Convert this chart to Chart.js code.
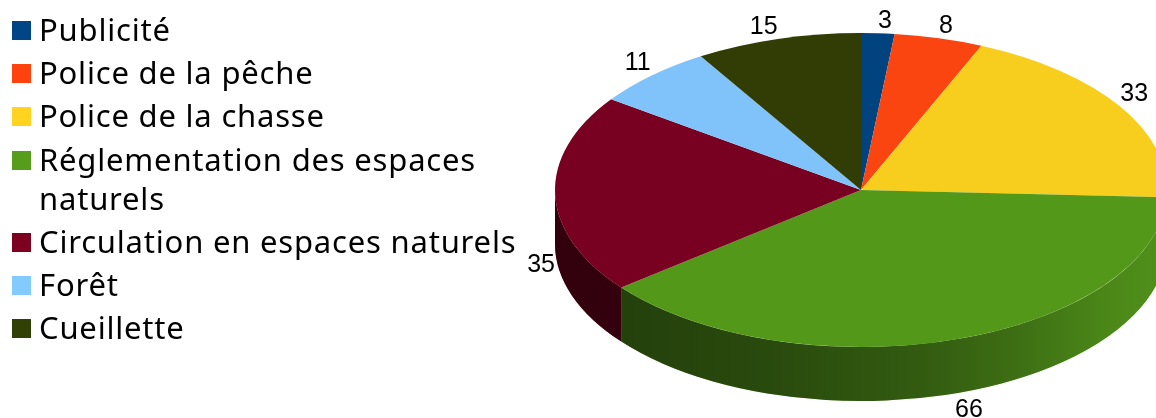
<!DOCTYPE html>
<html lang="fr">
<head>
<meta charset="utf-8">
<title>Répartition</title>
<script src="https://cdn.jsdelivr.net/npm/chart.js@4"></script>
<style>
html, body { margin: 0; padding: 0; background: #fff; }
#wrap { position: relative; width: 1156px; height: 418px; overflow: hidden; }
#pie { position: absolute; left: 0; top: 0; }
#legend { position: absolute; left: 12px; top: 10px; width: 510px; margin: 0; padding: 0; list-style: none;
  font: 31px 'Noto Sans', sans-serif; letter-spacing: .8px; color: #000; }
#legend li { position: relative; padding-left: 27px; line-height: 39px; margin-bottom: 4.2px; }
#legend i { position: absolute; left: 0; top: 11px; width: 19px; height: 19px; }
</style>
</head>
<body>
<div id="wrap">
  <canvas id="pie" width="1156" height="418"></canvas>
  <ul id="legend"></ul>
</div>
<script>
// Data
const categories = [
  "Publicité",
  "Police de la pêche",
  "Police de la chasse",
  "Réglementation des espaces naturels",
  "Circulation en espaces naturels",
  "Forêt",
  "Cueillette"
];
const values = [3, 8, 33, 66, 35, 11, 15];
const legendColors = ["#004586", "#ff420e", "#ffd320", "#579d1c", "#7e0021", "#83caff", "#314004"];
const sliceColors = ["#00437f", "#fb4510", "#f8ce1e", "#54981a", "#780020", "#7fc3fa", "#313d04"];

// Ellipse of the tilted pie, in page pixels
const CX = 861, CY = 190, RX = 306, RY = 157, DEPTH = 54;

// Legend
const legend = document.getElementById("legend");
categories.forEach((name, i) => {
  const li = document.createElement("li");
  li.innerHTML = `<i style="background:${legendColors[i]}"></i>${name}`;
  legend.appendChild(li);
});

// Side wall of the pie, only the front half shows
function drawWalls(ctx, arcs) {
  arcs.forEach((arc, i) => {
    const a0 = Math.max(arc.startAngle, 0);
    const a1 = Math.min(arc.endAngle, Math.PI);
    if (a1 <= a0) return;

    const path = new Path2D();
    path.ellipse(CX, CY, RX, RY, 0, a0, a1);
    path.ellipse(CX, CY + DEPTH, RX, RY, 0, a1, a0, true);
    path.closePath();

    ctx.fillStyle = legendColors[i];
    ctx.fill(path);

    const shade = ctx.createLinearGradient(CX - RX, 0, CX + RX, 0);
    shade.addColorStop(0, "rgba(0,0,0,.6)");
    shade.addColorStop(0.11, "rgba(0,0,0,.59)");
    shade.addColorStop(0.35, "rgba(0,0,0,.53)");
    shade.addColorStop(0.6, "rgba(0,0,0,.42)");
    shade.addColorStop(0.75, "rgba(0,0,0,.3)");
    shade.addColorStop(0.9, "rgba(0,0,0,.14)");
    shade.addColorStop(1, "rgba(0,0,0,.08)");
    ctx.fillStyle = shade;
    ctx.fill(path);
  });
}

const tiltPlugin = {
  id: "tilt",
  beforeDatasetsDraw(chart) {
    const ctx = chart.ctx;
    const arcs = chart.getDatasetMeta(0).data;
    drawWalls(ctx, arcs);

    // squash the flat pie into the ellipse
    const first = arcs[0];
    ctx.save();
    ctx.translate(CX, CY);
    ctx.scale(RX / first.outerRadius, RY / first.outerRadius);
    ctx.translate(-first.x, -first.y);
  },
  afterDatasetsDraw(chart) {
    const ctx = chart.ctx;
    ctx.restore();

    // value labels sit just off the rim of each slice
    ctx.save();
    ctx.font = "25px 'Liberation Sans', sans-serif";
    ctx.fillStyle = "#000";
    ctx.textAlign = "center";
    ctx.textBaseline = "middle";
    chart.getDatasetMeta(0).data.forEach((arc, i) => {
      const mid = (arc.startAngle + arc.endAngle) / 2;
      const c = Math.cos(mid), s = Math.sin(mid);
      // near the top of the pie the label is almost centred on its rim point
      const dx = Math.abs(c) < 0.26 && s < 0 ? 7 : (c < 0 ? -14 : 14);
      const x = CX + RX * c + dx;
      const y = CY + RY * s + (s > 0 ? DEPTH + 17 : -12);
      ctx.fillText(values[i], x, y);
    });
    ctx.restore();
  }
};

new Chart(document.getElementById("pie"), {
  type: "pie",
  data: {
    labels: categories,
    datasets: [{
      data: values,
      backgroundColor: sliceColors,
      borderWidth: 0,
      clip: false
    }]
  },
  options: {
    responsive: false,
    animation: false,
    events: [],
    plugins: {
      legend: { display: false },
      tooltip: { enabled: false }
    }
  },
  plugins: [tiltPlugin]
});
</script>
</body>
</html>
